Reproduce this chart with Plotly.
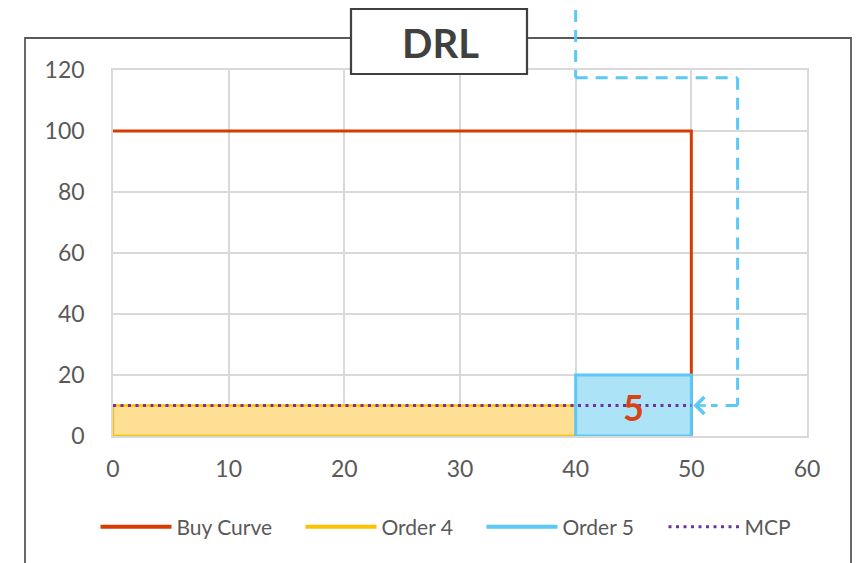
import plotly.graph_objects as go

# ---- data ----
buy_qty = [0, 50, 50]
buy_price = [100, 100, 0]
order4_qty = [0, 40]
order4_price = 10
order5_qty = [40, 50]
order5_price = 20
mcp_qty = [0, 50]
mcp_price = 10
x_ticks = [0, 10, 20, 30, 40, 50, 60]
y_ticks = [0, 20, 40, 60, 80, 100, 120]
series_names = ["Buy Curve", "Order 4", "Order 5", "MCP"]
title_text = "DRL"
order5_label = "5"

X_MAX, Y_MAX = 60, 120

RED = "#D83B01"
LBL = "#D84315"
YEL = "#FFC000"
YEL_FILL = "#FFDF94"
BLU = "#5BC8F5"
BLU_FILL = "#ADE3F7"
PUR = "#7030A0"
GRAY = "#595959"
GRID = "#D9D9D9"
FONT = "Lato"
DOTS = "3px,4.5px"


def rect(q, p):
    return [q[0], q[0], q[1], q[1], q[0]], [0, p, p, 0, 0]


fig = go.Figure()

fig.add_trace(go.Scatter(x=buy_qty, y=buy_price, mode="lines",
                         line=dict(color=RED, width=3), showlegend=False))
rx, ry = rect(order4_qty, order4_price)
fig.add_trace(go.Scatter(x=rx, y=ry, mode="lines", fill="toself", fillcolor=YEL_FILL,
                         line=dict(color=YEL, width=2.5), showlegend=False))
rx, ry = rect(order5_qty, order5_price)
fig.add_trace(go.Scatter(x=rx, y=ry, mode="lines", fill="toself", fillcolor=BLU_FILL,
                         line=dict(color=BLU, width=3), showlegend=False))
fig.add_trace(go.Scatter(x=mcp_qty, y=[mcp_price] * len(mcp_qty), mode="lines",
                         line=dict(color=PUR, width=3, dash=DOTS), showlegend=False))

# geometry helpers (pixel -> paper) for decorative frame / legend placement
L, R, T, B = 113, 54, 70, 127
W, H = 861, 563
pw, ph = W - L - R, H - T - B


def px(x):
    return (x - L) / pw


def py(y):
    return (H - B - y) / ph


# legend entries, each in its own legend box so gaps match the reference
legend_cols = [RED, YEL, BLU, PUR]
legend_dash = ["solid", "solid", "solid", DOTS]
legend_left = [99, 304, 485, 667]
legend_ids = ["legend", "legend2", "legend3", "legend4"]
legend_layout = {}
for name, col, dash, lid, lx in zip(series_names, legend_cols, legend_dash, legend_ids, legend_left):
    fig.add_trace(go.Scatter(x=[None], y=[None], mode="lines", name=name, legend=lid,
                             line=dict(color=col, width=4 if dash == "solid" else 3, dash=dash)))
    legend_layout[lid] = dict(orientation="h", x=px(lx - 3.5), y=py(527), xanchor="left",
                              yanchor="middle", font=dict(size=21, color=GRAY, family=FONT),
                              itemwidth=71, bgcolor="rgba(0,0,0,0)")

# label on order 5
fig.add_annotation(x=sum(order5_qty) / 2, y=mcp_price - 0.6, text="<b>%s</b>" % order5_label,
                   showarrow=False, yanchor="middle", font=dict(family=FONT, size=36, color=LBL))

shapes = []
# outer frame
shapes.append(dict(type="rect", xref="paper", yref="paper", x0=px(25), x1=px(851),
                   y0=py(580), y1=py(38), line=dict(color=GRAY, width=1.8),
                   fillcolor="rgba(0,0,0,0)", layer="above"))
# title box
shapes.append(dict(type="rect", xref="paper", yref="paper", x0=px(351), x1=px(527),
                   y0=py(74), y1=py(9), line=dict(color="#404040", width=2.2),
                   fillcolor="white", layer="above"))

# dashed connector (in axis-domain units derived from data)
dash_style = "12px,8px"
top_y = py(10)
turn_price = 117.5
right_q = 54
pts = [(order5_qty[0] / X_MAX, top_y),
       (order5_qty[0] / X_MAX, turn_price / Y_MAX),
       (right_q / X_MAX, turn_price / Y_MAX),
       (right_q / X_MAX, mcp_price / Y_MAX),
       (51.7 / X_MAX, mcp_price / Y_MAX)]
for (a, b), (c, d) in zip(pts[:-1], pts[1:]):
    shapes.append(dict(type="line", xref="x domain", yref="y domain", x0=a, y0=b, x1=c, y1=d,
                       line=dict(color=BLU, width=3, dash=dash_style), layer="above"))

fig.add_annotation(x=order5_qty[1], y=mcp_price, ax=16, ay=0, xref="x", yref="y",
                   text="", showarrow=True, arrowhead=4, arrowsize=1.3, arrowwidth=2.5,
                   arrowcolor=BLU, standoff=2)

fig.add_annotation(xref="paper", yref="paper", x=px(440), y=py(43), xanchor="center",
                   yanchor="middle", text="<b>%s</b>" % title_text,
                   showarrow=False, font=dict(family=FONT, size=40, color="#404040"))

fig.update_layout(
    width=W, height=H,
    margin=dict(l=L, r=R, t=T, b=B, autoexpand=False),
    paper_bgcolor="white", plot_bgcolor="white",
    shapes=shapes,
    font=dict(family=FONT, color=GRAY),
    xaxis=dict(range=[0, X_MAX], tickvals=x_ticks, ticktext=[str(v) for v in x_ticks],
               showgrid=True, gridcolor=GRID, gridwidth=1.5, zeroline=False,
               showline=True, linecolor=GRID, linewidth=1.5, mirror=True,
               tickfont=dict(size=23, color=GRAY), ticklabelstandoff=12, fixedrange=True),
    yaxis=dict(range=[0, Y_MAX], tickvals=y_ticks, ticktext=[str(v) for v in y_ticks],
               showgrid=True, gridcolor=GRID, gridwidth=1.5, zeroline=False,
               showline=True, linecolor=GRID, linewidth=1.5, mirror=True,
               tickfont=dict(size=23, color=GRAY), ticklabelstandoff=22, fixedrange=True),
    **legend_layout,
)

fig.write_html("out.html", config={"displayModeBar": False},
               post_script="document.body.style.margin='0';document.body.style.overflow='hidden';")
